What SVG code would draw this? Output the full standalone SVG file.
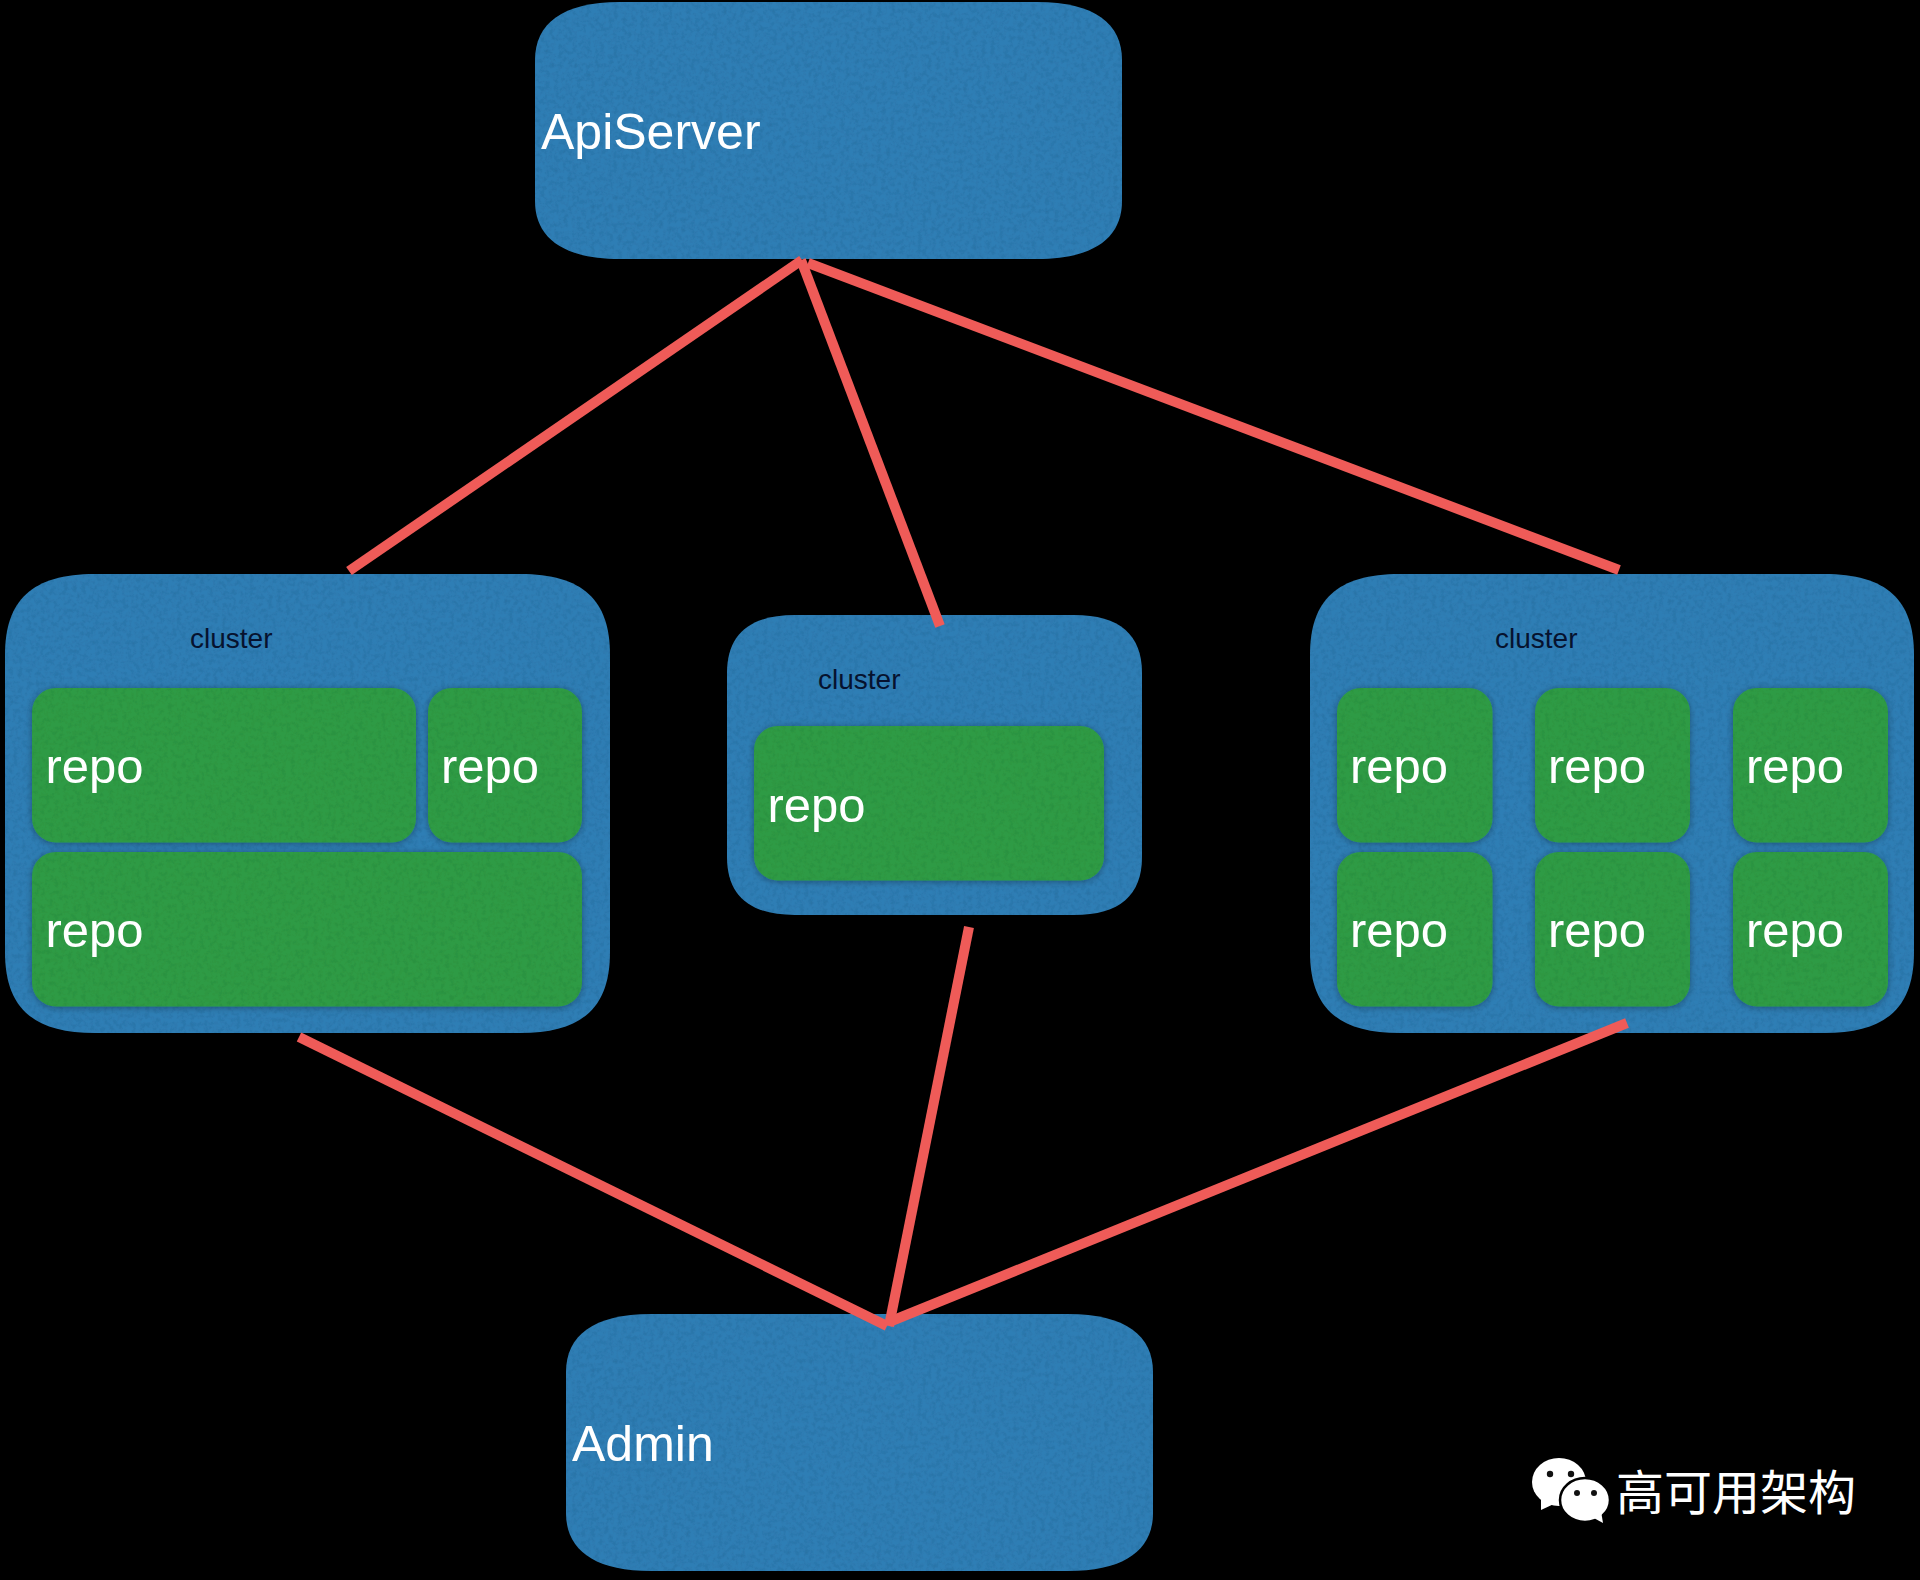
<svg xmlns="http://www.w3.org/2000/svg" width="1920" height="1580" viewBox="0 0 1920 1580">
<defs>
<style>
.blue{fill:#2f7eb5;filter:url(#felt)}
.green{fill:#2e9b44;filter:url(#feltShadow)}
.big{font:50px "Liberation Sans",Arial,sans-serif;fill:#fff}
.repo{font:49px "Liberation Sans",Arial,sans-serif;fill:#fff}
.small{font:28px "Liberation Sans",Arial,sans-serif;fill:#06122e}
.link{stroke:#ef5b58;stroke-width:10;fill:none}
</style>
<filter id="felt" x="-2%" y="-2%" width="104%" height="104%">
<feTurbulence type="fractalNoise" baseFrequency="0.22" numOctaves="4" seed="4" result="n"/>
<feColorMatrix in="n" type="matrix" values="0 0 0 0 0  0 0 0 0 0  0 0 0 0 0  0 0 0 1.1 -0.4" result="d"/>
<feComposite in="d" in2="SourceAlpha" operator="in" result="t"/>
<feComponentTransfer in="t" result="t2"><feFuncA type="linear" slope="0.3"/></feComponentTransfer>
<feMerge><feMergeNode in="SourceGraphic"/><feMergeNode in="t2"/></feMerge>
</filter>
<filter id="feltShadow" x="-5%" y="-5%" width="110%" height="110%">
<feTurbulence type="fractalNoise" baseFrequency="0.22" numOctaves="4" seed="9" result="n"/>
<feColorMatrix in="n" type="matrix" values="0 0 0 0 0  0 0 0 0 0  0 0 0 0 0  0 0 0 1.1 -0.4" result="d"/>
<feComposite in="d" in2="SourceAlpha" operator="in" result="t"/>
<feComponentTransfer in="t" result="t2"><feFuncA type="linear" slope="0.25"/></feComponentTransfer>
<feGaussianBlur in="SourceAlpha" stdDeviation="3.5" result="b"/>
<feOffset in="b" dy="1" result="o"/>
<feComponentTransfer in="o" result="s"><feFuncA type="linear" slope="0.35"/></feComponentTransfer>
<feMerge><feMergeNode in="s"/><feMergeNode in="SourceGraphic"/><feMergeNode in="t2"/></feMerge>
</filter>
</defs>
<rect width="1920" height="1580" fill="#000"/>
<g id="apiserver">
<path class="blue" d="M620,2 H1037 C1095,2 1122,24 1122,60 V201 C1122,237 1095,259 1037,259 H620 C562,259 535,237 535,201 V60 C535,24 562,2 620,2Z"/>
<text class="big" x="541" y="149">ApiServer</text>
</g>
<g id="cluster-left">
<path class="blue" d="M95,574 H520 C583,574 610,600 610,655 V952 C610,1007 583,1033 520,1033 H95 C32,1033 5,1007 5,952 V655 C5,600 32,574 95,574Z"/>
<text class="small" x="190" y="648">cluster</text>
<g id="repo-l1"><rect class="green" x="32" y="688" width="384" height="154.5" rx="24"/><text class="repo" x="45.500" y="783">repo</text></g>
<g id="repo-l2"><rect class="green" x="428" y="688" width="154" height="154.5" rx="24"/><text class="repo" x="441" y="783">repo</text></g>
<g id="repo-l3"><rect class="green" x="32" y="852" width="550" height="154.5" rx="24"/><text class="repo" x="45.500" y="947">repo</text></g>
</g>
<g id="cluster-middle">
<path class="blue" d="M795,615 H1074 C1120,615 1142,635 1142,673 V857 C1142,895 1120,915 1074,915 H795 C749,915 727,895 727,857 V673 C727,635 749,615 795,615Z"/>
<text class="small" x="818" y="689">cluster</text>
<g id="repo-m1"><rect class="green" x="754" y="726" width="350" height="154.5" rx="24"/><text class="repo" x="767.500" y="822">repo</text></g>
</g>
<g id="cluster-right">
<path class="blue" d="M1400,574 H1824 C1887,574 1914,600 1914,655 V952 C1914,1007 1887,1033 1824,1033 H1400 C1337,1033 1310,1007 1310,952 V655 C1310,600 1337,574 1400,574Z"/>
<text class="small" x="1495" y="648">cluster</text>
<g id="repo-r1"><rect class="green" x="1337" y="688" width="155.500" height="154.5" rx="24"/><text class="repo" x="1350" y="783">repo</text></g>
<g id="repo-r2"><rect class="green" x="1535" y="688" width="155" height="154.5" rx="24"/><text class="repo" x="1548" y="783">repo</text></g>
<g id="repo-r3"><rect class="green" x="1733" y="688" width="155" height="154.5" rx="24"/><text class="repo" x="1746" y="783">repo</text></g>
<g id="repo-r4"><rect class="green" x="1337" y="852" width="155.500" height="154.5" rx="24"/><text class="repo" x="1350" y="947">repo</text></g>
<g id="repo-r5"><rect class="green" x="1535" y="852" width="155" height="154.5" rx="24"/><text class="repo" x="1548" y="947">repo</text></g>
<g id="repo-r6"><rect class="green" x="1733" y="852" width="155" height="154.5" rx="24"/><text class="repo" x="1746" y="947">repo</text></g>
</g>
<g id="admin">
<path class="blue" d="M651,1314 H1068 C1126,1314 1153,1336 1153,1372 V1513 C1153,1549 1126,1571 1068,1571 H651 C593,1571 566,1549 566,1513 V1372 C566,1336 593,1314 651,1314Z"/>
<text class="big" x="572" y="1461">Admin</text>
</g>
<g id="connectors">
<line class="link" x1="802" y1="260" x2="349" y2="571"/>
<line class="link" x1="801" y1="260" x2="940" y2="626"/>
<line class="link" x1="808" y1="263" x2="1619" y2="570"/>
<line class="link" x1="299" y1="1037" x2="887" y2="1326"/>
<line class="link" x1="969" y1="927" x2="889" y2="1326"/>
<line class="link" x1="1627" y1="1023" x2="889" y2="1322"/>
</g>
<g id="watermark">
<ellipse cx="1559" cy="1482" rx="27" ry="24" fill="#fff"/>
<path d="M1541 1496 L1541 1510 L1556 1503 Z" fill="#fff"/>
<ellipse cx="1585" cy="1500" rx="25" ry="22" fill="#fff" stroke="#000" stroke-width="2.5"/>
<path d="M1592 1517 L1603 1523 L1601 1511 Z" fill="#fff"/>
<circle cx="1550" cy="1474" r="3.2" fill="#111"/>
<circle cx="1571" cy="1474" r="3.2" fill="#111"/>
<circle cx="1577" cy="1493" r="3" fill="#111"/>
<circle cx="1594" cy="1493" r="3" fill="#111"/>
<text x="1616" y="1510" font-family="'Noto Sans CJK SC','Noto Sans',sans-serif" font-size="48" fill="#fff">高可用架构</text>
</g>
</svg>
